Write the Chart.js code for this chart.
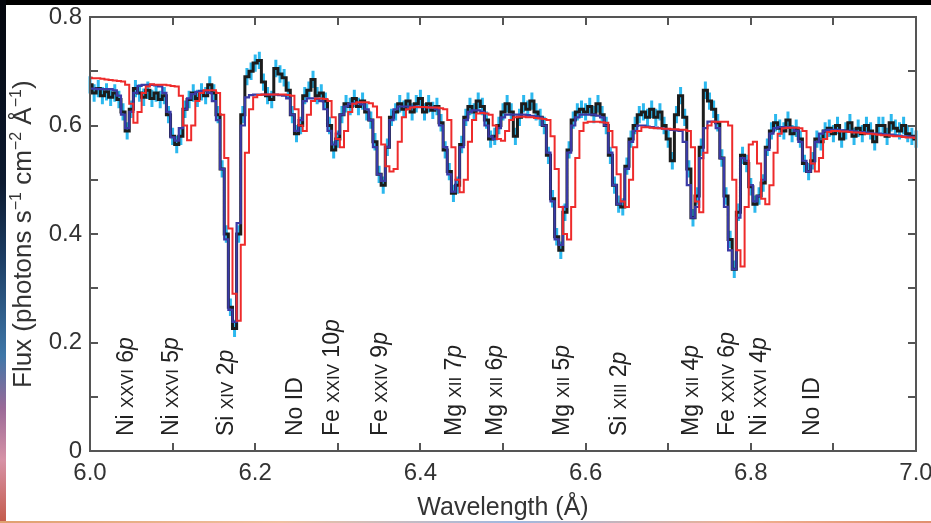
<!DOCTYPE html>
<html>
<head>
<meta charset="utf-8">
<script src="https://cdn.jsdelivr.net/npm/chart.js@4.4.1/dist/chart.umd.min.js"></script>
<style>
  html, body { margin: 0; padding: 0; }
  body { width: 931px; height: 523px; position: relative; overflow: hidden; background: #fff; }
  #topBand { position: absolute; left: 0; top: 0; width: 931px; height: 5px; background: #000; }
  #leftBand { position: absolute; left: 0; top: 0; width: 6px; height: 523px;
    background: linear-gradient(to bottom, #04060c 0%, #0c1a30 35%, #1d3f66 50%, #3f77a8 68%, #9a6a98 78%, #d792a6 88%, #c45a4a 100%); }
  #bottomBand { position: absolute; left: 0; top: 521px; width: 931px; height: 2px;
    background: linear-gradient(to right, #e0a070, #f0c0a0 30%, #a0b8e0 55%, #f0b090 80%, #e09070); }
  #chart { position: absolute; left: 0; top: 0; }
</style>
</head>
<body>
<div id="topBand"></div>
<div id="leftBand"></div>
<div id="bottomBand"></div>
<canvas id="chart" width="931" height="523"></canvas>
<script>
// Espectro observado (fluxo por bin de 0.005 Å, de 6.000 a 7.000 Å)
var fluxData = [
  0.675,0.66,0.668,0.655,0.662,0.652,0.66,0.648,0.625,0.59,
  0.63,0.668,0.66,0.652,0.665,0.65,0.66,0.648,0.655,0.62,
  0.58,0.565,0.58,0.63,0.648,0.66,0.65,0.662,0.655,0.675,
  0.66,0.62,0.52,0.40,0.265,0.226,0.40,0.62,0.69,0.70,
  0.715,0.72,0.68,0.655,0.648,0.705,0.695,0.688,0.665,0.62,
  0.585,0.60,0.655,0.665,0.685,0.655,0.66,0.645,0.60,0.555,
  0.575,0.62,0.64,0.635,0.65,0.635,0.645,0.625,0.61,0.57,
  0.51,0.49,0.56,0.615,0.625,0.64,0.63,0.645,0.625,0.64,
  0.65,0.625,0.64,0.628,0.635,0.605,0.555,0.515,0.475,0.49,
  0.565,0.615,0.635,0.625,0.645,0.635,0.61,0.575,0.58,0.60,
  0.625,0.64,0.625,0.58,0.615,0.64,0.63,0.645,0.625,0.615,
  0.60,0.545,0.465,0.395,0.37,0.44,0.555,0.61,0.625,0.63,
  0.625,0.635,0.62,0.64,0.62,0.60,0.545,0.49,0.455,0.45,
  0.525,0.575,0.60,0.62,0.625,0.615,0.63,0.615,0.625,0.60,
  0.575,0.535,0.62,0.655,0.615,0.52,0.43,0.47,0.56,0.665,
  0.645,0.63,0.605,0.54,0.47,0.39,0.335,0.44,0.545,0.53,
  0.487,0.455,0.47,0.494,0.56,0.59,0.605,0.595,0.59,0.61,
  0.585,0.595,0.575,0.53,0.515,0.535,0.575,0.57,0.59,0.595,
  0.585,0.6,0.575,0.59,0.605,0.58,0.595,0.585,0.60,0.59,
  0.57,0.6,0.6,0.58,0.605,0.595,0.59,0.6,0.585,0.58,
  0.575
];
var fluxErr = 0.016;

// Modelo azul
var modelBlue = [
  0.668,0.668,0.667,0.667,0.667,0.667,0.665,0.655,0.62,0.595,
  0.625,0.66,0.673,0.675,0.675,0.675,0.674,0.672,0.66,0.625,
  0.578,0.572,0.595,0.63,0.65,0.658,0.662,0.664,0.664,0.66,
  0.645,0.61,0.52,0.39,0.26,0.238,0.42,0.60,0.652,0.656,
  0.657,0.657,0.657,0.657,0.657,0.657,0.656,0.655,0.65,0.62,
  0.59,0.61,0.645,0.65,0.65,0.649,0.645,0.63,0.59,0.565,
  0.585,0.62,0.635,0.64,0.641,0.641,0.639,0.63,0.61,0.56,
  0.51,0.498,0.56,0.61,0.63,0.635,0.635,0.635,0.635,0.635,
  0.634,0.634,0.634,0.633,0.63,0.60,0.56,0.51,0.478,0.50,
  0.56,0.61,0.625,0.628,0.628,0.625,0.60,0.58,0.575,0.595,
  0.615,0.62,0.62,0.62,0.62,0.62,0.619,0.618,0.617,0.615,
  0.60,0.55,0.46,0.39,0.38,0.45,0.55,0.60,0.615,0.62,
  0.62,0.62,0.62,0.618,0.615,0.60,0.55,0.49,0.455,0.46,
  0.52,0.57,0.59,0.60,0.60,0.598,0.597,0.596,0.595,0.594,
  0.593,0.592,0.591,0.59,0.57,0.49,0.43,0.45,0.54,0.595,
  0.607,0.607,0.595,0.54,0.45,0.37,0.335,0.43,0.54,0.535,
  0.49,0.46,0.47,0.50,0.555,0.585,0.595,0.597,0.597,0.597,
  0.596,0.59,0.57,0.535,0.515,0.53,0.57,0.585,0.59,0.592,
  0.592,0.592,0.591,0.59,0.59,0.589,0.588,0.588,0.587,0.586,
  0.585,0.585,0.584,0.583,0.583,0.582,0.581,0.58,0.58,0.579,
  0.578
];

// Modelo vermelho
var modelRed = [
  0.688,0.687,0.687,0.686,0.685,0.684,0.683,0.682,0.681,0.675,
  0.64,0.605,0.625,0.66,0.672,0.676,0.675,0.675,0.675,0.674,
  0.673,0.672,0.655,0.60,0.573,0.60,0.645,0.66,0.665,0.665,
  0.665,0.66,0.62,0.54,0.41,0.29,0.24,0.38,0.55,0.63,
  0.652,0.656,0.657,0.657,0.657,0.657,0.657,0.657,0.656,0.655,
  0.63,0.60,0.59,0.62,0.645,0.65,0.65,0.649,0.645,0.615,
  0.575,0.56,0.59,0.625,0.64,0.643,0.643,0.643,0.641,0.635,
  0.615,0.565,0.525,0.515,0.52,0.57,0.615,0.63,0.633,0.634,
  0.634,0.634,0.633,0.633,0.633,0.632,0.63,0.61,0.56,0.50,
  0.477,0.50,0.57,0.61,0.622,0.623,0.622,0.62,0.60,0.575,
  0.572,0.59,0.61,0.615,0.616,0.616,0.615,0.615,0.614,0.613,
  0.612,0.61,0.58,0.52,0.45,0.40,0.39,0.45,0.54,0.59,
  0.605,0.607,0.607,0.607,0.606,0.605,0.59,0.56,0.51,0.46,
  0.45,0.50,0.56,0.59,0.597,0.597,0.596,0.595,0.595,0.594,
  0.594,0.593,0.593,0.592,0.592,0.59,0.56,0.46,0.44,0.55,
  0.60,0.607,0.607,0.607,0.607,0.60,0.50,0.37,0.34,0.45,
  0.565,0.57,0.53,0.465,0.455,0.49,0.55,0.585,0.595,0.596,
  0.596,0.596,0.595,0.59,0.56,0.53,0.515,0.54,0.575,0.588,
  0.59,0.59,0.589,0.589,0.588,0.587,0.587,0.586,0.585,0.585,
  0.584,0.583,0.582,0.582,0.581,0.58,0.58,0.579,0.578,0.578,
  0.577
];

// centros dos bins (Å)
var wavelength = fluxData.map(function (_, i) { return +(6 + i * 0.005).toFixed(3); });

// Identificação das linhas
var lineWave    = [6.042, 6.097, 6.163, 6.247, 6.292, 6.349, 6.439, 6.489, 6.570, 6.639, 6.726, 6.770, 6.809, 6.873];
var lineElement = ['Ni', 'Ni', 'Si', 'No ID', 'Fe', 'Fe', 'Mg', 'Mg', 'Mg', 'Si', 'Mg', 'Fe', 'Ni', 'No ID'];
var lineStage   = ['XXVI', 'XXVI', 'XIV', '', 'XXIV', 'XXIV', 'XII', 'XII', 'XII', 'XIII', 'XII', 'XXIV', 'XXVI', ''];
var lineLevel   = ['6', '5', '2', '', '10', '9', '7', '6', '5', '2', '4', '6', '4', ''];

function toXY(arr) {
  return arr.map(function (v, i) { return { x: wavelength[i], y: v }; });
}

var FONT = "'Liberation Sans', Arial, Helvetica, sans-serif";

var errorBars = {
  id: 'errorBars',
  beforeDatasetsDraw: function (chart) {
    var ctx = chart.ctx, x = chart.scales.x, y = chart.scales.y;
    ctx.save();
    ctx.strokeStyle = '#2cb8ee';
    ctx.lineWidth = 3;
    ctx.beginPath();
    fluxData.forEach(function (f, i) {
      var px = x.getPixelForValue(wavelength[i]);
      ctx.moveTo(px, y.getPixelForValue(f - fluxErr));
      ctx.lineTo(px, y.getPixelForValue(f + fluxErr));
    });
    ctx.stroke();
    ctx.restore();
  }
};

var frameTicks = {
  id: 'frameTicks',
  afterDatasetsDraw: function (chart) {
    var ctx = chart.ctx, a = chart.chartArea, x = chart.scales.x, y = chart.scales.y;
    ctx.save();
    ctx.strokeStyle = '#555';
    ctx.lineWidth = 2;
    ctx.strokeRect(a.left, a.top, a.right - a.left, a.bottom - a.top);
    ctx.beginPath();
    x.ticks.forEach(function (t) {
      var px = Math.round(x.getPixelForValue(t.value));
      ctx.moveTo(px, a.bottom); ctx.lineTo(px, a.bottom - 8);
      ctx.moveTo(px, a.top); ctx.lineTo(px, a.top + 8);
    });
    y.ticks.forEach(function (t) {
      var py = Math.round(y.getPixelForValue(t.value));
      ctx.moveTo(a.left, py); ctx.lineTo(a.left + 8, py);
      ctx.moveTo(a.right, py); ctx.lineTo(a.right - 8, py);
    });
    ctx.stroke();
    ctx.restore();
  }
};

var lineIds = {
  id: 'lineIds',
  afterDatasetsDraw: function (chart) {
    var ctx = chart.ctx, x = chart.scales.x;
    var big = 23, small = 17;
    ctx.save();
    ctx.fillStyle = '#222';
    ctx.textBaseline = 'alphabetic';
    ctx.textAlign = 'left';
    lineWave.forEach(function (w, i) {
      ctx.save();
      ctx.translate(x.getPixelForValue(w), 436);
      ctx.rotate(-Math.PI / 2);
      var pos = 0, base = big * 0.716 / 2;
      var parts;
      if (lineStage[i] === '') {
        parts = [[lineElement[i], big, '']];
      } else {
        parts = [[lineElement[i] + ' ', big, ''], [lineStage[i], small, ''], [' ' + lineLevel[i], big, ''], ['p', big, 'italic ']];
      }
      parts.forEach(function (p) {
        ctx.font = p[2] + p[1] + 'px ' + FONT;
        ctx.fillText(p[0], pos, base);
        pos += ctx.measureText(p[0]).width;
      });
      ctx.restore();
    });
    ctx.restore();
  }
};

var yTitle = {
  id: 'yTitle',
  afterDraw: function (chart) {
    var ctx = chart.ctx;
    var big = 26, small = 16;
    var parts = [['Flux (photons s', 0], ['\u22121', 1], [' cm', 0], ['\u22122', 1], [' \u00c5', 0], ['\u22121', 1], [')', 0]];
    ctx.save();
    ctx.fillStyle = '#333';
    ctx.translate(31, 388);
    ctx.rotate(-Math.PI / 2);
    var pos = 0;
    parts.forEach(function (p) {
      ctx.font = (p[1] ? small : big) + 'px ' + FONT;
      ctx.fillText(p[0], pos, p[1] ? -10 : 0);
      pos += ctx.measureText(p[0]).width;
    });
    ctx.restore();
  }
};

new Chart(document.getElementById('chart'), {
  type: 'line',
  data: {
    datasets: [{
      label: 'Dados',
      data: toXY(fluxData),
      borderColor: '#1c1c1c',
      borderWidth: 3,
      stepped: 'middle',
      pointRadius: 0,
      order: 3
    }, {
      label: 'Modelo',
      data: toXY(modelBlue),
      borderColor: '#3a3aa6',
      borderWidth: 2.2,
      stepped: 'middle',
      pointRadius: 0,
      order: 2
    }, {
      label: 'Modelo deslocado',
      data: toXY(modelRed),
      borderColor: '#ee2b2b',
      borderWidth: 2,
      stepped: 'middle',
      pointRadius: 0,
      order: 1
    }]
  },
  options: {
    responsive: false,
    animation: false,
    layout: { padding: { top: 17, right: 15, left: 0, bottom: 0 }, autoPadding: false },
    plugins: { legend: { display: false }, tooltip: { enabled: false } },
    scales: {
      x: {
        type: 'linear', min: 6, max: 7,
        grid: { display: false, drawTicks: false },
        border: { display: false },
        ticks: {
          stepSize: 0.1, autoSkip: false, maxRotation: 0, padding: 8, color: '#333',
          font: { family: FONT, size: 24 },
          callback: function (v) { return Math.round(v * 10) % 2 === 0 ? v.toFixed(1) : ''; }
        },
        title: { display: true, text: 'Wavelength (Å)', color: '#333', font: { family: FONT, size: 25 }, padding: { top: 0, bottom: 0 } },
        afterFit: function (s) { s.height = 72; s.paddingLeft = 0; s.paddingRight = 0; }
      },
      y: {
        min: 0, max: 0.8,
        grid: { display: false, drawTicks: false },
        border: { display: false },
        ticks: {
          stepSize: 0.1, autoSkip: false, padding: 8, color: '#333',
          font: { family: FONT, size: 24 },
          callback: function (v) {
            var k = Math.round(v * 10);
            if (k % 2 !== 0) return '';
            return k === 0 ? '0' : v.toFixed(1);
          }
        },
        afterFit: function (s) { s.width = 90; s.paddingTop = 0; s.paddingBottom = 0; }
      }
    }
  },
  plugins: [errorBars, frameTicks, lineIds, yTitle]
});
</script>
</body>
</html>
